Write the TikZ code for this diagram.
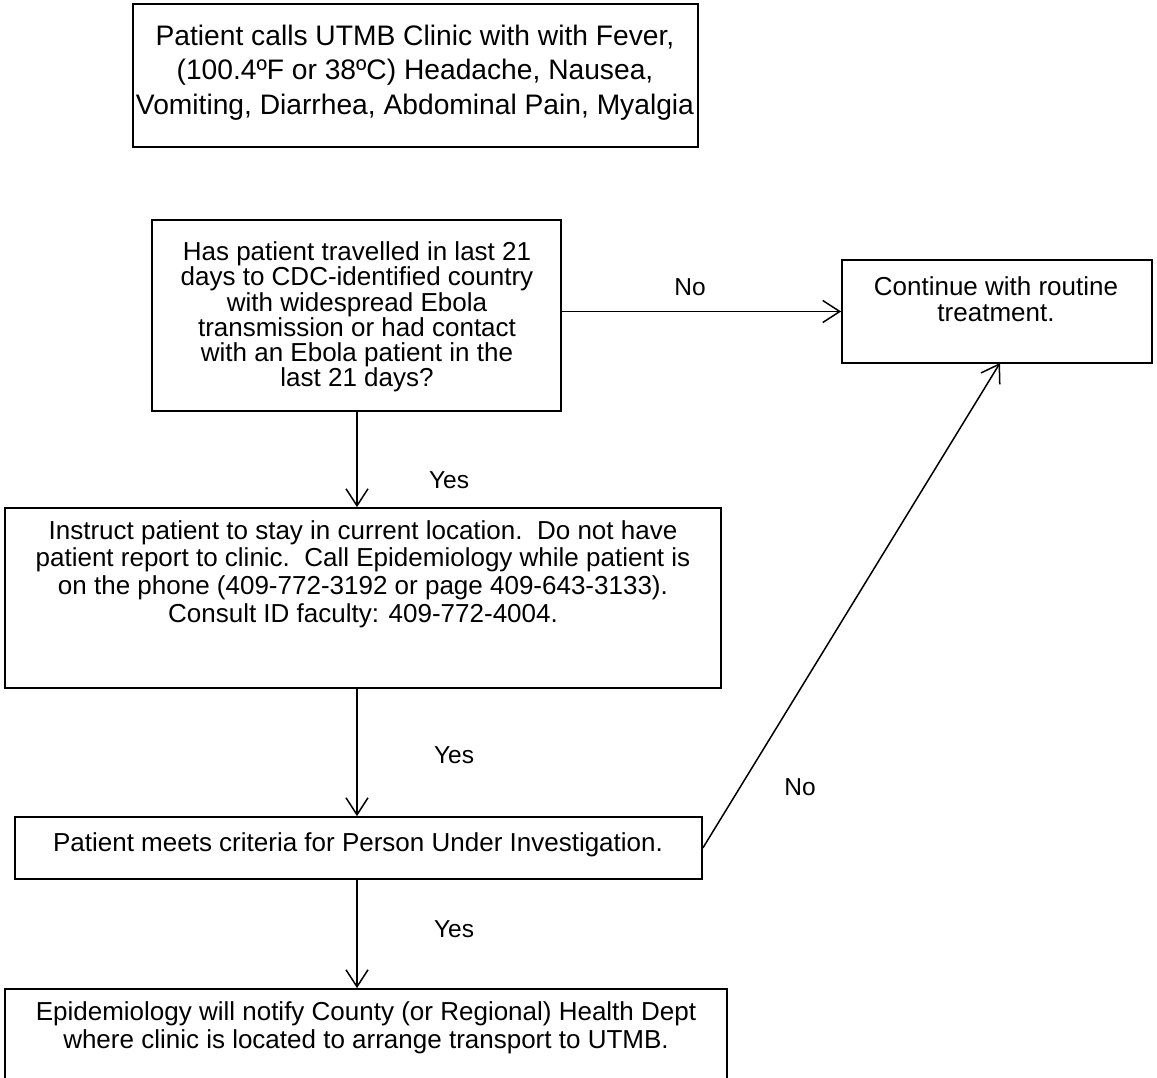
\documentclass[tikz,border=0pt]{standalone}
\usepackage{fontspec}
\setmainfont{Liberation Sans}
\usetikzlibrary{arrows.meta}
\begin{document}
\begin{tikzpicture}[x=1pt,y=-1pt,
  box/.style={draw, line width=1.7pt, inner sep=0pt},
  txt/.style={font=\fontsize{26}{26.5}\selectfont, align=center, inner sep=0pt},
  lbl/.style={font=\fontsize{24.5}{26}\selectfont, inner sep=0pt},
  arr/.style={-{Straight Barb[length=17pt,width=22pt]}, line width=1.5pt}]
\useasboundingbox[fill=white] (0,0) rectangle (1157,1078);
% boxes
\node[box, minimum width=565pt, minimum height=143pt] (b1) at (415.5,75.5) {};
\node[box, minimum width=409pt, minimum height=191pt] (b2) at (356.5,315.5) {};
\node[box, minimum width=310pt, minimum height=103pt] (b3) at (997,311.5) {};
\node[box, minimum width=716pt, minimum height=180pt] (b4) at (363,598) {};
\node[box, minimum width=687pt, minimum height=62pt] (b5) at (358.5,848) {};
\node[box, minimum width=722pt, minimum height=96pt] (b6) at (366,1037) {};
% texts
\node[txt, font=\fontsize{28.2}{34.5}\selectfont] (t1) at (415,72.5) {Patient calls UTMB Clinic with with Fever,\\(100.4ºF or 38ºC) Headache, Nausea,\\Vomiting, Diarrhea, Abdominal Pain, Myalgia};
\node[txt, font=\fontsize{26}{25.2}\selectfont] (t2) at (357,317) {Has patient travelled in last 21\\days to CDC-identified country\\with widespread Ebola\\transmission or had contact\\with an Ebola patient in the\\last 21 days?};
\node[txt] (t3) at (996,299) {Continue with routine\\treatment.};
\node[txt, font=\fontsize{26}{27.7}\selectfont] (t4) at (363,574) {Instruct patient to stay in current location.\ \ Do not have\\patient report to clinic.\ \ Call Epidemiology while patient is\\on the phone (409-772-3192 or page 409-643-3133).\\Consult ID faculty: 409-772-4004.};
\node[txt] (t5) at (358,845) {Patient meets criteria for Person Under Investigation.};
\node[txt, font=\fontsize{26}{28}\selectfont] (t6) at (366,1027.5) {Epidemiology will notify County (or Regional) Health Dept\\where clinic is located to arrange transport to UTMB.};
% connectors
\coordinate (c2s) at (357,411);
\draw[arr] (c2s) -- (c2s |- b4.north);
\coordinate (c4s) at (357,688);
\draw[arr] (c4s) -- (c4s |- b5.north);
\coordinate (c5s) at (357,879);
\draw[arr] (c5s) -- (c5s |- b6.north);
\draw[arr] (b2.east |- b3.west) -- (b3.west);
\coordinate (c3s) at (1000,363);
\draw[arr] (b5.east) -- (c3s);
% labels
\node[lbl] (l1) at (690,287) {No};
\node[lbl] (l2) at (449,480) {Yes};
\node[lbl] (l3) at (454,755) {Yes};
\node[lbl] (l4) at (800,787) {No};
\node[lbl] (l5) at (454,929) {Yes};
\end{tikzpicture}
\end{document}
